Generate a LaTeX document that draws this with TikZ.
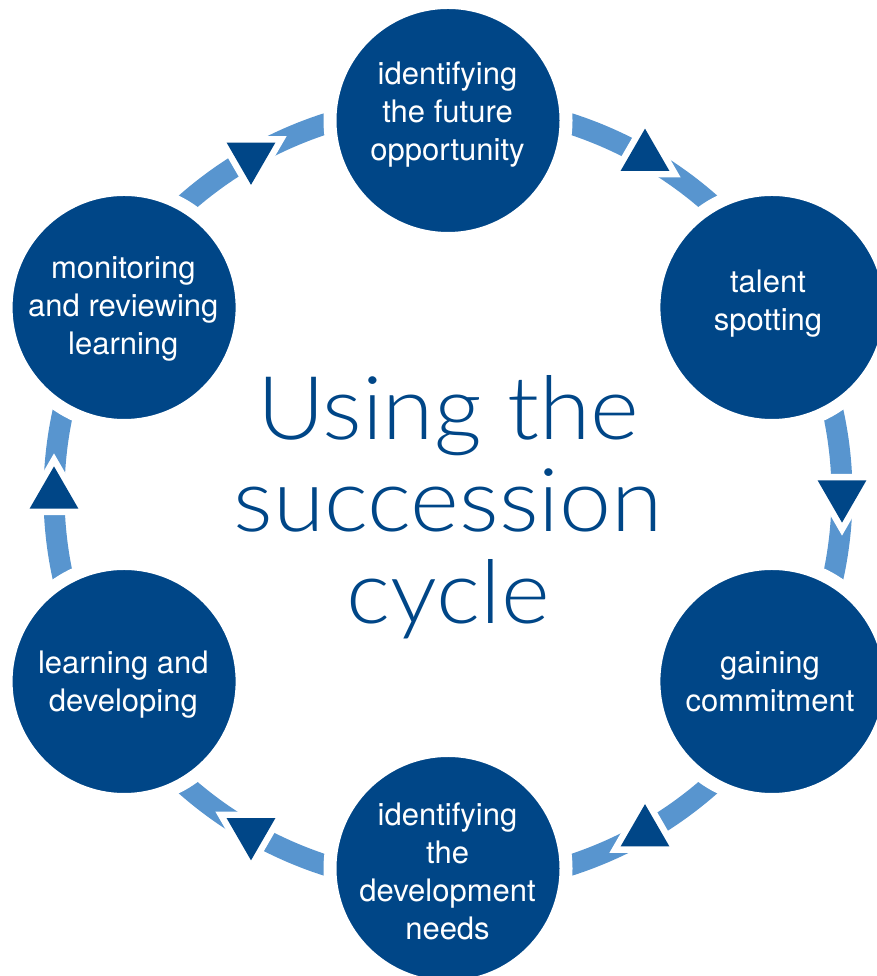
\documentclass[tikz,border=0pt]{standalone}
\usepackage{fontspec}
\newfontfamily\hv{TeX Gyre Heros}
\IfFontExistsTF{Lato Light}{\newfontfamily\lt{Lato Light}[FakeStretch=1.06]}{\newfontfamily\lt{TeX Gyre Heros}}
\definecolor{dkblue}{RGB}{0,70,135}
\definecolor{ltblue}{RGB}{88,149,207}
\newcommand\ls{\rule[-14pt]{0pt}{38pt}}
\newcommand\tls{\rule[-26pt]{0pt}{92pt}}
\newcommand\uptri[1]{\path[marker] ([shift={(90:28.1pt)}]#1) -- ([shift={(210:28.1pt)}]#1) -- ([shift={(330:28.1pt)}]#1) -- cycle;}
\newcommand\downtri[1]{\path[marker] ([shift={(270:28.1pt)}]#1) -- ([shift={(30:28.1pt)}]#1) -- ([shift={(150:28.1pt)}]#1) -- cycle;}
\begin{document}
\begin{tikzpicture}[x=1pt,y=1pt,
  ring/.style={draw=ltblue, line width=21pt},
  stage/.style={circle, fill=dkblue, draw=white, line width=13pt, minimum size=236pt, inner sep=0pt},
  stagetext/.style={text=white, align=center, font=\hv\fontsize{31}{38}\selectfont, inner sep=0pt},
  marker/.style={fill=dkblue, preaction={draw=white, line width=13pt, line join=miter}},
  title/.style={text=dkblue, align=center, font=\lt\fontsize{88}{92}\selectfont, inner sep=0pt}]
\useasboundingbox (0,0) rectangle (876,976);
\coordinate (C) at (448,481.5);
% ring points
\foreach \a/\n in {90/1,30/2,-30/3,-90/4,-150/5,150/6}{
  \path (C) ++(\a:394pt and 390pt) coordinate (r\n);
}
\foreach \a/\n in {60/1,0/2,-60/3,-120/4,180/5,120/6}{
  \path (C) ++(\a:394pt and 390pt) coordinate (m\n);
}
% ring arcs
\draw[ring] (r1) arc[start angle=90, end angle=30, x radius=394pt, y radius=390pt];
\draw[ring] (r2) arc[start angle=30, end angle=-30, x radius=394pt, y radius=390pt];
\draw[ring] (r3) arc[start angle=-30, end angle=-90, x radius=394pt, y radius=390pt];
\draw[ring] (r4) arc[start angle=-90, end angle=-150, x radius=394pt, y radius=390pt];
\draw[ring] (r5) arc[start angle=-150, end angle=-210, x radius=394pt, y radius=390pt];
\draw[ring] (r6) arc[start angle=150, end angle=90, x radius=394pt, y radius=390pt];
% stages
\node[stage] (s1) at (448,855.5) {};
\node[stage] (s2) at (771.9,668.5) {};
\node[stage] (s3) at (771.9,294.5) {};
\node[stage] (s4) at (448,107.5) {};
\node[stage] (s5) at (124.1,294.5) {};
\node[stage] (s6) at (124.1,668.5) {};
% markers
\uptri{m1}
\downtri{m2}
\uptri{m3}
\downtri{m4}
\uptri{m5}
\downtri{m6}
% texts
\node[stagetext] (t1) at (447.5,858.5) {\ls identifying\\\ls the future\\\ls opportunity};
\node[stagetext] (t2) at (768,669.5) {\ls talent\\\ls spotting};
\node[stagetext] (t3) at (770,288.5) {\ls gaining\\\ls commitment};
\node[stagetext] (t4) at (447.5,98.5) {\ls identifying\\\ls the\\\ls development\\\ls needs};
\node[stagetext] (t5) at (123.3,288.5) {\ls learning and\\\ls developing};
\node[stagetext] (t6) at (123.3,664.5) {\ls monitoring\\\ls and reviewing\\\ls learning};
\node[title] (title) at (448,464) {\tls Using the\\\tls succession\\\tls cycle};
\end{tikzpicture}
\end{document}
